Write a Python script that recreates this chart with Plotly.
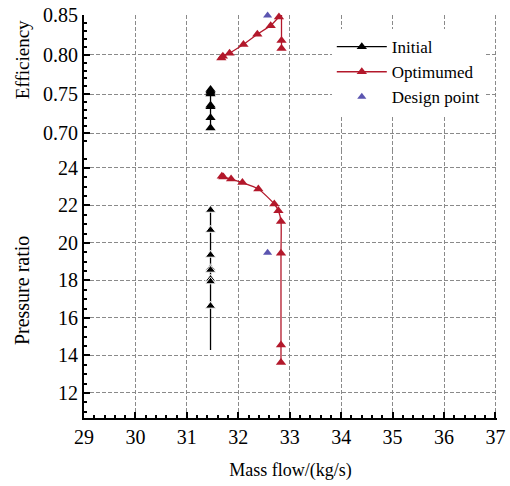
import plotly.graph_objects as go
from plotly.subplots import make_subplots

# ---- data ----
init_eff_x = [31.46, 31.46, 31.46, 31.46, 31.46, 31.46, 31.46, 31.46]
init_eff_y = [0.756, 0.754, 0.752, 0.750, 0.736, 0.734, 0.720, 0.707]
init_pr_x = [31.46, 31.46, 31.46, 31.46, 31.46, 31.46, 31.46, 31.46, 31.46]
init_pr_y = [21.76, 20.69, 19.36, 18.65, 18.56, 18.08, 17.94, 16.64, 14.29]
init_pr_marker = [9, 9, 9, 9, 9, 9, 9, 9, 0]

opt_eff_x = [31.67, 31.70, 31.83, 32.10, 32.37, 32.63, 32.79, 32.84, 32.84, 32.84]
opt_eff_y = [0.796, 0.798, 0.802, 0.813, 0.826, 0.837, 0.848, 0.852, 0.818, 0.808]
opt_pr_x = [31.68, 31.71, 31.86, 32.08, 32.39, 32.70, 32.78, 32.83, 32.83, 32.83, 32.83]
opt_pr_y = [23.56, 23.52, 23.41, 23.22, 22.88, 22.08, 21.72, 21.14, 19.45, 14.56, 13.62]

design_x = [32.57]
design_eff = [0.850]
design_pr = [19.48]

x_ticks = [29, 30, 31, 32, 33, 34, 35, 36, 37]
eff_ticks = [0.70, 0.75, 0.80, 0.85]
pr_ticks = [12, 14, 16, 18, 20, 22, 24]

BLACK = "#000000"
RED = "#b3182b"
BLUE = "#5b55b0"
FONT = "Liberation Serif"
GRID = "#8a8a8a"

fig = make_subplots(rows=2, cols=1, shared_xaxes=True, vertical_spacing=0,
                    row_heights=[0.335, 0.665])

# top: efficiency
fig.add_trace(go.Scatter(x=init_eff_x, y=init_eff_y, mode="lines+markers",
                         line=dict(color=BLACK, width=1.3),
                         marker=dict(symbol="triangle-up", size=9, color=BLACK),
                         name="Initial", legendgroup="i", cliponaxis=False), row=1, col=1)
fig.add_trace(go.Scatter(x=opt_eff_x, y=opt_eff_y, mode="lines+markers",
                         line=dict(color=RED, width=1.3),
                         marker=dict(symbol="triangle-up", size=9, color=RED),
                         name="Optimumed", legendgroup="o", cliponaxis=False), row=1, col=1)
fig.add_trace(go.Scatter(x=design_x, y=design_eff, mode="markers",
                         marker=dict(symbol="triangle-up", size=8, color=BLUE),
                         name="Design point", legendgroup="d", cliponaxis=False), row=1, col=1)

# bottom: pressure ratio
fig.add_trace(go.Scatter(x=init_pr_x, y=init_pr_y, mode="lines+markers",
                         line=dict(color=BLACK, width=1.3),
                         marker=dict(symbol="triangle-up", size=init_pr_marker, color=BLACK,
                                     opacity=1),
                         name="Initial", legendgroup="i", showlegend=False), row=2, col=1)
fig.add_trace(go.Scatter(x=opt_pr_x, y=opt_pr_y, mode="lines+markers",
                         line=dict(color=RED, width=1.3, shape="spline", smoothing=0.6),
                         marker=dict(symbol="triangle-up", size=9, color=RED),
                         name="Optimumed", legendgroup="o", showlegend=False), row=2, col=1)
fig.add_trace(go.Scatter(x=design_x, y=design_pr, mode="markers",
                         marker=dict(symbol="triangle-up", size=8, color=BLUE),
                         name="Design point", legendgroup="d", showlegend=False), row=2, col=1)

grid = dict(showgrid=True, gridcolor=GRID, gridwidth=1, griddash="4px,2px", zeroline=False,
            automargin=False, ticklabeloverflow="allow")

fig.update_xaxes(range=[29, 37.03], tickvals=x_ticks, **grid)
fig.update_xaxes(row=1, col=1, showticklabels=False, ticks="", showline=False)
fig.update_xaxes(row=2, col=1, showline=True, linecolor=BLACK, linewidth=2,
                 ticks="inside", ticklen=6, tickwidth=1.5, tickcolor=BLACK,
                 minor=dict(ticks="inside", ticklen=3, dtick=0.2, tickcolor=BLACK, showgrid=False),
                 tickfont=dict(family=FONT, size=20, color=BLACK),
                 title=dict(text="Mass flow/(kg/s)", font=dict(family=FONT, size=18, color=BLACK),
                            standoff=16))

fig.update_yaxes(row=1, col=1, range=[0.679, 0.8505], tickvals=eff_ticks,
                 ticktext=["0.70", "0.75", "0.80", "0.85"],
                 showline=True, linecolor=BLACK, linewidth=2,
                 ticks="inside", ticklen=6, tickwidth=1.5, tickcolor=BLACK,
                 minor=dict(ticks="inside", ticklen=3, dtick=0.01, tickcolor=BLACK, showgrid=False),
                 tickfont=dict(family=FONT, size=20, color=BLACK), **grid)
fig.update_yaxes(row=2, col=1, range=[10.66, 24.96], tickvals=pr_ticks,
                 showline=True, linecolor=BLACK, linewidth=2,
                 ticks="inside", ticklen=6, tickwidth=1.5, tickcolor=BLACK,
                 minor=dict(ticks="inside", ticklen=3, dtick=0.5, tickcolor=BLACK, showgrid=False),
                 tickfont=dict(family=FONT, size=20, color=BLACK), **grid)

fig.add_annotation(text="Efficiency", xref="paper", yref="paper", x=-0.15, y=0.888,
                   xanchor="center", yanchor="middle", textangle=-90, showarrow=False,
                   font=dict(family=FONT, size=19, color=BLACK))
fig.add_annotation(text="Pressure ratio", xref="paper", yref="paper", x=-0.15, y=0.315,
                   xanchor="center", yanchor="middle", textangle=-90, showarrow=False,
                   font=dict(family=FONT, size=20, color=BLACK))

fig.update_layout(
    width=510, height=486,
    margin=dict(l=84, r=13, t=15, b=68, autoexpand=False),
    paper_bgcolor="white", plot_bgcolor="white",
    font=dict(family=FONT, size=18, color=BLACK),
    hovermode=False,
    legend=dict(x=0.6, y=0.965, xanchor="left", yanchor="top",
                font=dict(family=FONT, size=17, color=BLACK),
                bgcolor="white", tracegroupgap=0, itemwidth=50,
                traceorder="normal"),
)

fig.write_html("out.html", config={"displayModeBar": False},
               post_script="document.body.style.margin='0';document.body.style.overflow='hidden';")
